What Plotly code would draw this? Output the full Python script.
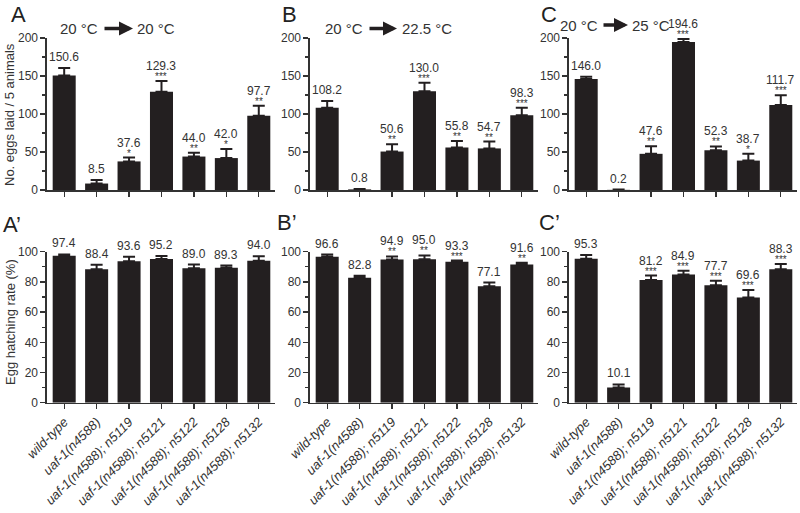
import plotly.graph_objects as go

categories = ["wild-type", "uaf-1(n4588)", "uaf-1(n4588); n5119", "uaf-1(n4588); n5121",
              "uaf-1(n4588); n5122", "uaf-1(n4588); n5128", "uaf-1(n4588); n5132"]

eggs_20 = [150.6, 8.5, 37.6, 129.3, 44.0, 42.0, 97.7]
eggs_20_err = [10, 4.7, 5, 14, 5, 12, 13]
eggs_20_sig = ["", "", "*", "***", "**", "*", "**"]

eggs_225 = [108.2, 0.8, 50.6, 130.0, 55.8, 54.7, 98.3]
eggs_225_err = [9, 0.5, 9.5, 11, 8.7, 9, 10]
eggs_225_sig = ["", "", "**", "***", "**", "**", "***"]

eggs_25 = [146.0, 0.2, 47.6, 194.6, 52.3, 38.7, 111.7]
eggs_25_err = [3, 0.3, 10, 4, 5, 9, 13]
eggs_25_sig = ["", "", "**", "***", "**", "*", "***"]

hatch_20 = [97.4, 88.4, 93.6, 95.2, 89.0, 89.3, 94.0]
hatch_20_err = [0.8, 3, 3, 2, 2.5, 1.5, 3]
hatch_20_sig = ["", "", "", "", "", "", ""]

hatch_225 = [96.6, 82.8, 94.9, 95.0, 93.3, 77.1, 91.6]
hatch_225_err = [1.5, 1.2, 2, 2.5, 0.8, 2.5, 1]
hatch_225_sig = ["", "", "**", "**", "***", "", "**"]

hatch_25 = [95.3, 10.1, 81.2, 84.9, 77.7, 69.6, 88.3]
hatch_25_err = [2.5, 2, 3, 2.5, 3, 5, 3.5]
hatch_25_sig = ["", "", "***", "***", "***", "***", "***"]

panel_letters = ["A", "B", "C", "A\u2019", "B\u2019", "C\u2019"]
titles = [("20 \u00b0C", "20 \u00b0C"), ("20 \u00b0C", "22.5 \u00b0C"), ("20 \u00b0C", "25 \u00b0C")]

FONT = "Arial, Liberation Sans, sans-serif"
INK = "#231f20"
TXT = "#333333"
W, H = 800, 513

xdoms = [(47, 275), (310, 538), (569, 797)]
ydoms_top = (190, 38)
ydoms_bot = (402.7, 251.7)

def px_x(p):
    return p / W

def px_y(p):
    return 1 - p / H

panels = [
    (eggs_20, eggs_20_err, eggs_20_sig, 0, True),
    (eggs_225, eggs_225_err, eggs_225_sig, 1, True),
    (eggs_25, eggs_25_err, eggs_25_sig, 2, True),
    (hatch_20, hatch_20_err, hatch_20_sig, 0, False),
    (hatch_225, hatch_225_err, hatch_225_sig, 1, False),
    (hatch_25, hatch_25_err, hatch_25_sig, 2, False),
]

fig = go.Figure()
annotations = []
layout = dict(width=W, height=H, margin=dict(l=0, r=0, t=0, b=0, autoexpand=False),
              plot_bgcolor="white", paper_bgcolor="white", showlegend=False,
              font=dict(family=FONT, color=TXT, size=12))

for k, (vals, errs, sigs, col, top) in enumerate(panels):
    idx = "" if k == 0 else str(k + 1)
    xa, ya = "x" + idx, "y" + idx
    fig.add_trace(go.Bar(
        x=list(range(len(categories))), y=vals, xaxis=xa, yaxis=ya,
        marker=dict(color=INK, line=dict(width=0)), width=0.71,
        error_y=dict(type="data", array=errs, arrayminus=[0] * len(errs), symmetric=False,
                     color=INK, thickness=2, width=6),
        hoverinfo="skip"))
    yd = ydoms_top if top else ydoms_bot
    layout["xaxis" + idx] = dict(
        domain=[px_x(xdoms[col][0]), min(1, px_x(xdoms[col][1]))], anchor=ya, automargin=False,
        range=[-0.53, 6.5], showline=True, linecolor=TXT, linewidth=1.6,
        ticks="outside", ticklen=5, tickwidth=1.3, tickcolor=TXT,
        tickvals=list(range(len(categories))),
        ticktext=categories if not top else [""] * len(categories),
        showticklabels=not top, tickangle=-45,
        tickfont=dict(size=13, style="italic", color=TXT, family=FONT),
        showgrid=False, zeroline=False, fixedrange=True)
    layout["yaxis" + idx] = dict(
        domain=[px_y(yd[0]), px_y(yd[1])], anchor=xa, automargin=False,
        range=[0, 200] if top else [0, 100],
        dtick=50 if top else 20,
        showline=True, linecolor=TXT, linewidth=1.6,
        ticks="outside", ticklen=5, tickwidth=1.3, tickcolor=TXT,
        minor=dict(dtick=25 if top else 10, ticks="outside", ticklen=3, tickwidth=1.2,
                   tickcolor=TXT, showgrid=False),
        tickfont=dict(size=12, color=TXT, family=FONT),
        showgrid=False, zeroline=False, fixedrange=True)
    for i, (v, e, s) in enumerate(zip(vals, errs, sigs)):
        yv = v + e
        if s:
            annotations.append(dict(x=i, y=yv, xref=xa, yref=ya, text=s, showarrow=False,
                                    yanchor="bottom", yshift=-3,
                                    font=dict(size=10, color=TXT, family=FONT)))
            annotations.append(dict(x=i, y=yv, xref=xa, yref=ya, text=f"{v:.1f}",
                                    showarrow=False, yanchor="bottom", yshift=6,
                                    font=dict(size=12, color=TXT, family=FONT)))
        else:
            annotations.append(dict(x=i, y=yv, xref=xa, yref=ya, text=f"{v:.1f}",
                                    showarrow=False, yanchor="bottom", yshift=2,
                                    font=dict(size=12, color=TXT, family=FONT)))

# panel letters
letter_pos = [(18, 14), (289, 14), (549, 14), (12, 224), (287, 223), (549, 223)]
for lt, (lx, ly) in zip(panel_letters, letter_pos):
    annotations.append(dict(x=px_x(lx), y=px_y(ly), xref="paper", yref="paper", text=lt,
                            showarrow=False, xanchor="center", yanchor="middle",
                            font=dict(size=22, color="#222222", family=FONT)))

# temperature titles with arrows
title_geo = [(100, 103, 133, 135, 28.5), (365, 368, 397, 400, 28.5), (600, 602, 628, 630, 25)]
for (t1, t2), (l_end, a0, a1, r_start, ty) in zip(titles, title_geo):
    annotations.append(dict(x=px_x(l_end), y=px_y(ty), xref="paper", yref="paper", text=t1,
                            showarrow=False, xanchor="right", yanchor="middle",
                            font=dict(size=15, color=TXT, family=FONT)))
    annotations.append(dict(x=px_x(r_start), y=px_y(ty), xref="paper", yref="paper", text=t2,
                            showarrow=False, xanchor="left", yanchor="middle",
                            font=dict(size=15, color=TXT, family=FONT)))
    annotations.append(dict(x=px_x(a1), y=px_y(ty), xref="paper", yref="paper", text="",
                            showarrow=True, ax=-(a1 - a0), ay=0, axref="pixel", ayref="pixel",
                            arrowhead=2, arrowsize=0.8, arrowwidth=3.5, arrowcolor=INK,
                            standoff=0, startstandoff=0))

# y-axis titles
annotations.append(dict(x=px_x(10), y=px_y(115), xref="paper", yref="paper",
                        text="No. eggs laid / 5 animals", textangle=-90, showarrow=False,
                        xanchor="center", yanchor="middle", font=dict(size=13, color=TXT, family=FONT)))
annotations.append(dict(x=px_x(10), y=px_y(322), xref="paper", yref="paper",
                        text="Egg hatching rate (%)", textangle=-90, showarrow=False,
                        xanchor="center", yanchor="middle", font=dict(size=13, color=TXT, family=FONT)))

layout["annotations"] = annotations
fig.update_layout(**layout)
fig.write_html("out.html", config={"displayModeBar": False, "staticPlot": True},
               post_script="document.body.style.margin='0px';document.body.style.overflow='hidden';")
